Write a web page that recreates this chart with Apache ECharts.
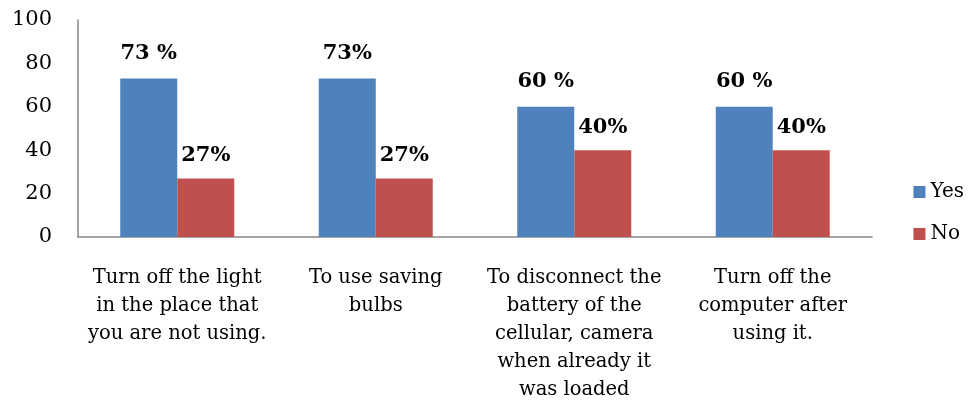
<!DOCTYPE html>
<html><head><meta charset="utf-8">
<script src="https://cdn.jsdelivr.net/npm/echarts@6/dist/echarts.min.js"></script>
<style>html,body{margin:0;padding:0;background:#fff}#c{width:969px;height:400px}</style>
</head><body><div id="c"></div>
<script>
var categories = [
  "Turn off the light\nin the place that\nyou are not using.",
  "To use saving\nbulbs",
  "To disconnect the\nbattery of the\ncellular, camera\nwhen already it\nwas loaded",
  "Turn off the\ncomputer after\nusing it."
];
var yesValues = [73, 73, 60, 60];
var noValues = [27, 27, 40, 40];
var yesLabels = ["73 %", "73%", "60 %", "60 %"];
var noLabels = ["27%", "27%", "40%", "40%"];
var yTicks = [0, 20, 40, 60, 80, 100];

var FONT = "DejaVu Serif";
var chart = echarts.init(document.getElementById('c'));
chart.setOption({
  animation: false,
  textStyle: {fontFamily: FONT},
  grid: {left: 78, right: 97, top: 20, bottom: 163, outerBoundsMode: 'none', containLabel: false},
  legend: {
    orient: 'vertical', right: 0, top: 177,
    itemWidth: 12, itemHeight: 12, itemGap: 22, icon: 'rect',
    data: ['Yes', 'No'],
    textStyle: {fontFamily: FONT, fontSize: 20, color: '#000'}
  },
  xAxis: {
    type: 'category', data: categories,
    axisLine: {lineStyle: {color: '#868686', width: 1.5}},
    axisTick: {show: false},
    axisLabel: {fontFamily: FONT, fontSize: 19.5, color: '#000', lineHeight: 28, margin: 27, interval: 0}
  },
  yAxis: {
    type: 'value', min: yTicks[0], max: yTicks[yTicks.length-1], interval: 20,
    axisLine: {show: true, lineStyle: {color: '#868686', width: 1.5}},
    axisTick: {show: false},
    splitLine: {show: false},
    axisLabel: {fontFamily: FONT, fontSize: 21, color: '#000', margin: 26}
  },
  series: [
    {name: 'Yes', type: 'bar', data: yesValues, barWidth: 57, barGap: '0%',
     itemStyle: {color: '#4F81BD'},
     label: {show: true, position: 'top', distance: 15, fontFamily: FONT, fontWeight: 'bold', fontSize: 21, color: '#000',
       formatter: function(p){return yesLabels[p.dataIndex];}}},
    {name: 'No', type: 'bar', data: noValues, barWidth: 57, barGap: '0%',
     itemStyle: {color: '#C0504D'},
     label: {show: true, position: 'top', distance: 12, fontFamily: FONT, fontWeight: 'bold', fontSize: 21, color: '#000',
       formatter: function(p){return noLabels[p.dataIndex];}}}
  ]
});
</script></body></html>
